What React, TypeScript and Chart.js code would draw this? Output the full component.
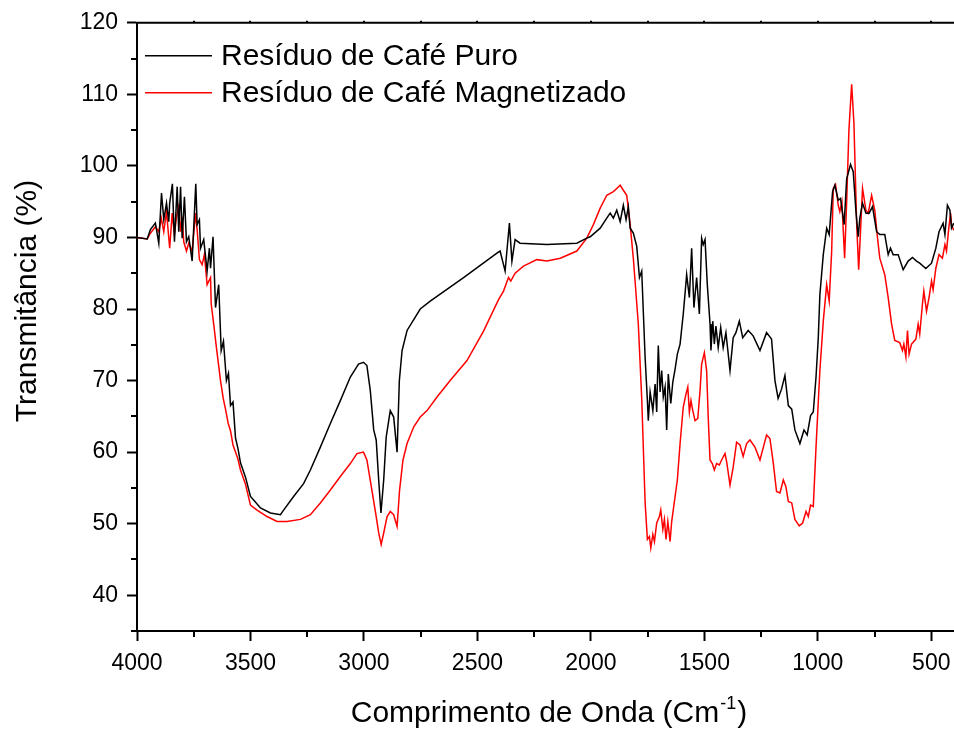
import React, { useEffect, useRef } from 'react';
import { Chart, registerables } from 'chart.js';

Chart.register(...registerables);

const FONT = '"Liberation Sans", Arial, sans-serif';

const seriesNames = ['Resíduo de Café Puro', 'Resíduo de Café Magnetizado'];
const seriesColors = ['#000000', '#ff0000'];
const yTitle = 'Transmitância (%)';
const xTitleMain = 'Comprimento de Onda (Cm';
const xTitleSup = '-1';
const xTitleEnd = ')';

const puroWavenumber = [
  4000, 3955, 3941, 3919, 3904, 3892, 3882, 3870, 3860, 3856, 3844, 3835, 3823, 3816, 3808, 3801,
  3791, 3782, 3772, 3757, 3741, 3735, 3725, 3720, 3706, 3691, 3681, 3676, 3665, 3654, 3640, 3629,
  3619, 3606, 3597, 3588, 3577, 3566, 3555, 3544, 3522, 3500, 3486, 3456, 3412, 3368, 3354, 3310,
  3266, 3236, 3192, 3148, 3104, 3060, 3024, 3002, 2987, 2972, 2957, 2946, 2935, 2925, 2913, 2902,
  2884, 2869, 2854, 2844, 2832, 2810, 2752, 2708, 2561, 2414, 2400, 2378, 2359, 2348, 2334, 2312,
  2194, 2062, 2018, 2003, 1959, 1930, 1915, 1901, 1886, 1871, 1857, 1845, 1835, 1827, 1813, 1798,
  1786, 1776, 1761, 1751, 1747, 1739, 1727, 1717, 1710, 1703, 1695, 1688, 1681, 1673, 1666, 1659,
  1648, 1639, 1629, 1619, 1607, 1593, 1578, 1566, 1556, 1546, 1534, 1522, 1512, 1505, 1497, 1487,
  1475, 1471, 1463, 1456, 1449, 1439, 1428, 1417, 1405, 1387, 1373, 1361, 1346, 1331, 1307, 1285,
  1255, 1226, 1204, 1189, 1175, 1160, 1145, 1130, 1115, 1101, 1079, 1061, 1047, 1032, 1020, 1008,
  998, 991, 976, 961, 950, 935, 925, 910, 900, 884, 873, 856, 844, 832, 822, 815,
  803, 788, 774, 759, 741, 727, 705, 690, 680, 668, 646, 624, 602, 583, 565, 551,
  524, 499, 480, 466, 448, 440, 429, 418, 411, 401,
];
const puroTransmittance = [
  90.0, 89.8, 91.1, 92.0, 89.2, 96.2, 92.5, 94.8, 92.2, 94.8, 97.5, 89.4, 97.1, 90.8, 97.1, 89.9,
  95.7, 89.4, 90.1, 86.7, 97.5, 91.8, 92.5, 88.5, 89.7, 85.3, 88.5, 85.7, 90.1, 80.2, 83.4, 74.2,
  75.5, 70.0, 71.0, 66.5, 67.0, 62.0, 60.5, 58.5, 56.5, 53.8, 53.3, 52.2, 51.5, 51.25, 51.9, 53.8,
  55.6, 57.5, 60.7, 64.0, 67.2, 70.5, 72.3, 72.55, 72.1, 68.6, 63.1, 61.7, 56.1, 51.5, 56.1, 62.1,
  65.8, 64.9, 60.0, 70.0, 74.2, 77.0, 80.0, 81.1, 84.4, 87.8, 88.1, 85.3, 92.0, 86.7, 89.7, 89.2,
  89.0, 89.2, 89.9, 90.1, 91.3, 92.7, 93.4, 92.7, 93.8, 92.2, 94.5, 92.5, 94.3, 91.3, 90.6, 88.75,
  84.4, 85.3, 73.2, 67.2, 64.4, 68.4, 65.8, 69.5, 65.6, 74.9, 68.4, 71.4, 67.7, 69.1, 63.1, 70.9,
  66.8, 69.8, 71.6, 73.7, 75.1, 79.3, 84.8, 81.6, 88.5, 80.2, 84.4, 79.3, 89.9, 89.0, 89.7, 83.4,
  77.9, 74.2, 78.3, 75.1, 77.6, 74.6, 77.4, 74.6, 76.7, 71.4, 76.0, 76.7, 78.3, 76.0, 77.0, 76.25,
  74.2, 76.7, 75.8, 70.0, 67.5, 68.8, 70.7, 66.5, 66.0, 63.1, 61.2, 63.1, 62.4, 65.1, 65.6, 70.5,
  76.0, 82.0, 87.6, 91.3, 90.4, 96.4, 97.3, 95.2, 95.45, 91.8, 98.2, 100.2, 99.2, 93.6, 90.1, 92.7,
  94.8, 93.4, 93.4, 94.3, 90.8, 90.4, 90.4, 87.6, 88.5, 87.6, 87.6, 85.5, 86.7, 87.2, 86.7, 86.4,
  85.65, 86.4, 88.5, 90.8, 92.0, 90.4, 94.5, 93.8, 91.3, 92.0,
];

const magWavenumber = [
  4000, 3955, 3941, 3919, 3904, 3893, 3882, 3870, 3856, 3845, 3835, 3826, 3816, 3808, 3801, 3794,
  3782, 3772, 3757, 3742, 3735, 3725, 3713, 3703, 3691, 3676, 3673, 3662, 3650, 3632, 3620, 3610,
  3598, 3588, 3577, 3566, 3555, 3544, 3522, 3500, 3471, 3427, 3383, 3339, 3280, 3236, 3192, 3148,
  3104, 3060, 3031, 3002, 2987, 2965, 2946, 2935, 2924, 2913, 2898, 2884, 2869, 2854, 2843, 2828,
  2810, 2781, 2752, 2722, 2678, 2620, 2546, 2473, 2407, 2385, 2363, 2353, 2334, 2297, 2238, 2194,
  2135, 2062, 2018, 1989, 1959, 1930, 1901, 1886, 1871, 1857, 1842, 1827, 1813, 1791, 1776, 1761,
  1751, 1742, 1736, 1727, 1720, 1710, 1698, 1692, 1683, 1676, 1669, 1661, 1651, 1644, 1629, 1619,
  1607, 1593, 1581, 1573, 1566, 1559, 1551, 1541, 1529, 1519, 1512, 1500, 1490, 1483, 1475, 1465,
  1456, 1446, 1434, 1424, 1409, 1402, 1387, 1373, 1358, 1343, 1329, 1314, 1299, 1277, 1255, 1240,
  1226, 1211, 1196, 1182, 1167, 1152, 1141, 1130, 1115, 1101, 1082, 1067, 1052, 1042, 1032, 1020,
  1008, 991, 976, 961, 950, 939, 932, 922, 910, 903, 894, 882, 873, 863, 851, 841,
  829, 820, 803, 788, 778, 763, 749, 737, 727, 705, 690, 675, 661, 639, 627, 621,
  612, 605, 598, 587, 568, 558, 551, 539, 533, 521, 510, 499, 492, 480, 466, 451,
  440, 433, 423, 415, 411, 401,
];
const magTransmittance = [
  90.0, 89.8, 90.6, 91.5, 90.8, 92.7, 90.8, 93.6, 88.5, 93.4, 90.4, 92.9, 94.3, 90.8, 92.9, 89.4,
  88.1, 89.2, 88.1, 93.4, 91.1, 86.9, 86.2, 87.6, 83.4, 84.4, 80.7, 77.9, 74.6, 70.0, 67.5, 66.0,
  64.0, 63.0, 61.0, 60.0, 59.0, 57.5, 55.5, 52.6, 51.9, 51.0, 50.3, 50.3, 50.6, 51.25, 52.9, 54.7,
  56.6, 58.4, 59.8, 60.0, 58.9, 54.7, 51.0, 48.7, 47.1, 48.7, 51.0, 51.7, 51.25, 49.6, 54.7, 58.9,
  61.2, 63.5, 64.9, 65.8, 67.7, 70.0, 72.8, 76.9, 81.3, 82.5, 84.4, 83.9, 85.0, 86.0, 86.9, 86.7,
  87.1, 88.1, 89.9, 91.8, 94.1, 95.9, 96.4, 96.85, 97.3, 96.6, 95.9, 91.8, 87.1, 77.9, 67.5, 52.9,
  47.8, 48.2, 46.6, 48.5, 47.5, 50.1, 51.0, 51.9, 49.2, 50.6, 47.8, 50.3, 47.5, 50.3, 53.8, 56.1,
  61.2, 66.3, 68.1, 69.1, 65.6, 67.2, 65.8, 64.4, 64.7, 68.6, 72.3, 73.9, 71.4, 64.9, 58.9, 58.4,
  57.5, 58.4, 58.2, 58.9, 59.8, 58.7, 55.4, 57.9, 61.4, 61.0, 59.4, 61.2, 61.7, 60.7, 58.9, 60.7,
  62.4, 61.9, 58.4, 54.5, 54.3, 56.1, 55.2, 53.1, 52.9, 50.6, 49.7, 50.1, 51.7, 51.0, 52.6, 52.4,
  60.7, 71.4, 78.3, 83.4, 81.1, 88.1, 96.85, 97.4, 94.5, 93.6, 95.0, 87.1, 95.0, 105.0, 111.4, 106.0,
  92.0, 85.5, 96.85, 93.8, 93.4, 95.9, 93.8, 89.9, 87.1, 84.8, 81.6, 77.9, 75.6, 75.3, 74.2, 75.1,
  73.3, 77.0, 73.7, 75.1, 75.8, 77.9, 76.5, 80.7, 82.5, 79.7, 81.6, 83.9, 82.7, 85.7, 87.6, 87.1,
  89.0, 88.1, 91.3, 93.4, 91.8, 91.0,
];

const xMajorTicks = [4000, 3500, 3000, 2500, 2000, 1500, 1000, 500];
const xMinorTicks = [3750, 3250, 2750, 2250, 1750, 1250, 750];
const xTopTicks = [3750, 3500, 3250, 3000, 2750, 2500, 2250, 2000, 1750, 1500, 1250, 1000, 750, 500];
const yMajorTicks = [40, 50, 60, 70, 80, 90, 100, 110, 120];
const yMinorTicks = [35, 45, 55, 65, 75, 85, 95, 105, 115];

const framePlugin = {
  id: 'frameAndLegend',
  afterDraw(chart: any) {
    const { ctx, chartArea, scales } = chart;
    const xs = scales.x;
    const ys = scales.y;
    ctx.save();
    ctx.strokeStyle = '#000';
    ctx.lineWidth = 2;
    ctx.beginPath();
    ctx.moveTo(chartArea.left - 1, chartArea.top);
    ctx.lineTo(chartArea.right, chartArea.top);
    for (const v of xMinorTicks) {
      const px = Math.round(xs.getPixelForValue(v));
      ctx.moveTo(px, chartArea.bottom);
      ctx.lineTo(px, chartArea.bottom + 6);
    }
    for (const v of xTopTicks) {
      const px = Math.round(xs.getPixelForValue(v));
      ctx.moveTo(px, chartArea.top);
      ctx.lineTo(px, chartArea.top - 2);
    }
    for (const v of yMinorTicks) {
      const py = Math.round(ys.getPixelForValue(v));
      ctx.moveTo(chartArea.left, py);
      ctx.lineTo(chartArea.left - 6, py);
    }
    ctx.stroke();

    // legend inside plot area
    ctx.font = `30px ${FONT}`;
    ctx.textBaseline = 'middle';
    ctx.textAlign = 'left';
    chart.data.datasets.forEach((ds: any, i: number) => {
      const y = chartArea.top + 33 + i * 37;
      ctx.strokeStyle = ds.borderColor;
      ctx.lineWidth = 1.5;
      ctx.beginPath();
      ctx.moveTo(chartArea.left + 8, y);
      ctx.lineTo(chartArea.left + 75, y);
      ctx.stroke();
      ctx.fillStyle = '#000';
      ctx.fillText(ds.label, chartArea.left + 84, y + 1);
    });

    // y axis title
    ctx.fillStyle = '#000';
    ctx.save();
    ctx.translate(28, 301);
    ctx.rotate(-Math.PI / 2);
    ctx.textAlign = 'center';
    ctx.textBaseline = 'middle';
    ctx.font = `30px ${FONT}`;
    ctx.fillText(yTitle, 0, 0);
    ctx.restore();

    // x axis title with superscript
    ctx.textAlign = 'left';
    ctx.textBaseline = 'alphabetic';
    ctx.font = `30px ${FONT}`;
    const wMain = ctx.measureText(xTitleMain).width;
    const wEnd = ctx.measureText(xTitleEnd).width;
    ctx.font = `18px ${FONT}`;
    const wSup = ctx.measureText(xTitleSup).width;
    const total = wMain + wSup + 2 + wEnd;
    const cx = 549;
    const baseY = 722;
    let x0 = cx - total / 2;
    ctx.font = `30px ${FONT}`;
    ctx.fillText(xTitleMain, x0, baseY);
    x0 += wMain + 1;
    ctx.font = `18px ${FONT}`;
    ctx.fillText(xTitleSup, x0, baseY - 13);
    x0 += wSup + 1;
    ctx.font = `30px ${FONT}`;
    ctx.fillText(xTitleEnd, x0, baseY);
    ctx.restore();
  },
};

export default function App() {
  const canvasRef = useRef<HTMLCanvasElement | null>(null);

  useEffect(() => {
    if (!canvasRef.current) return;
    const toPoints = (xs: number[], ys: number[]) => xs.map((x, i) => ({ x, y: ys[i] }));
    const chart = new Chart(canvasRef.current, {
      type: 'line',
      data: {
        datasets: [
          {
            label: seriesNames[0],
            data: toPoints(puroWavenumber, puroTransmittance),
            borderColor: seriesColors[0],
            borderWidth: 1.5,
            pointRadius: 0,
            tension: 0,
            fill: false,
          },
          {
            label: seriesNames[1],
            data: toPoints(magWavenumber, magTransmittance),
            borderColor: seriesColors[1],
            borderWidth: 1.5,
            pointRadius: 0,
            tension: 0,
            fill: false,
          },
        ],
      },
      options: {
        animation: false,
        responsive: true,
        maintainAspectRatio: false,
        layout: { padding: { top: 20, left: 0, right: 0, bottom: 0 } },
        plugins: {
          legend: { display: false },
          tooltip: { enabled: false },
        },
        scales: {
          x: {
            type: 'linear',
            reverse: true,
            min: 400,
            max: 4000,
            afterBuildTicks: (scale: any) => {
              scale.ticks = xMajorTicks.map((value) => ({ value }));
            },
            afterFit: (scale: any) => {
              scale.height = 100;
              scale.paddingRight = 0;
              scale.paddingLeft = 0;
            },
            ticks: {
              autoSkip: false,
              maxRotation: 0,
              padding: 9,
              color: '#000',
              font: { family: FONT, size: 23 },
              callback: (v: any) => String(v),
            },
            grid: {
              drawOnChartArea: false,
              drawTicks: true,
              tickLength: 10,
              tickWidth: 2,
              tickColor: '#000',
            },
            border: { display: true, color: '#000', width: 2 },
            title: { display: false },
          },
          y: {
            type: 'linear',
            min: 35,
            max: 120,
            afterBuildTicks: (scale: any) => {
              scale.ticks = yMajorTicks.map((value) => ({ value }));
            },
            afterFit: (scale: any) => {
              scale.width = 137;
            },
            ticks: {
              autoSkip: false,
              padding: 9,
              color: '#000',
              font: { family: FONT, size: 23 },
              callback: (v: any) => String(v),
            },
            grid: {
              drawOnChartArea: false,
              drawTicks: true,
              tickLength: 10,
              tickWidth: 2,
              tickColor: '#000',
            },
            border: { display: true, color: '#000', width: 2 },
            title: { display: false },
          },
        },
      },
      plugins: [framePlugin],
    });
    return () => chart.destroy();
  }, []);

  return (
    <div style={{ position: 'absolute', left: 0, top: 0, width: 954, height: 731, background: '#fff' }}>
      <canvas ref={canvasRef} />
    </div>
  );
}
